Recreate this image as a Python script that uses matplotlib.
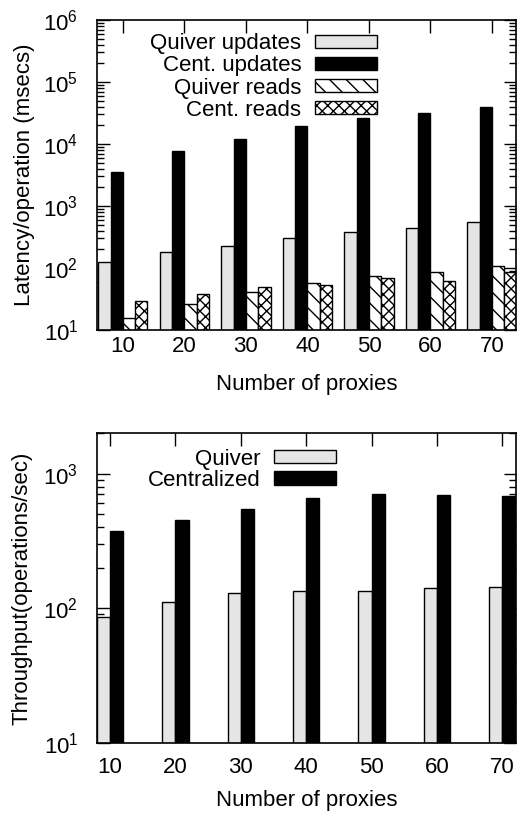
import numpy as np
import matplotlib
matplotlib.use("Agg")
import matplotlib.pyplot as plt
from matplotlib.patches import Patch

plt.rcParams['font.family'] = ['Liberation Sans', 'DejaVu Sans']
plt.rcParams['mathtext.fontset'] = 'custom'
plt.rcParams['mathtext.rm'] = 'Liberation Sans'
plt.rcParams['mathtext.it'] = 'Liberation Sans'
plt.rcParams['hatch.linewidth'] = 1.0

FS = 16
GRAY = '#e5e5e5'

proxies = [10, 20, 30, 40, 50, 60, 70]

# latency / operation (msecs)
quiver_updates = [126, 179, 229, 308, 385, 446, 546]
cent_updates = [3570, 7700, 11900, 19500, 26300, 31600, 40000]
quiver_reads = [15.5, 26, 41, 58, 75, 86, 108]
cent_reads = [29, 38, 49, 53, 70, 62, 86]

# throughput (operations/sec)
quiver_tp = [86, 111, 129, 134, 135, 141, 144]
cent_tp = [376, 454, 548, 662, 710, 697, 686]

fig = plt.figure(figsize=(5.22, 8.19), dpi=100)
ax1 = fig.add_axes([97/522, 1 - 330/819, 419/522, 310/819])
ax2 = fig.add_axes([97/522, 1 - 743/819, 419/522, 310/819])

x = np.arange(len(proxies))
w = 0.2


def style(ax, ylim, xlim, xpad, lpad):
    ax.set_yscale('log')
    ax.set_ylim(*ylim)
    ax.set_xlim(*xlim)
    ax.set_xticks(x)
    ax.set_xticklabels([str(p) for p in proxies])
    ax.tick_params(axis='both', which='both', direction='in', top=True, right=True,
                   labelsize=FS, width=1)
    ax.tick_params(axis='y', which='major', length=9, pad=13.5)
    ax.tick_params(axis='y', which='minor', length=5)
    ax.tick_params(axis='x', which='major', length=9, pad=xpad)
    ax.tick_params(axis='x', which='minor', bottom=False, top=False)
    ax.set_axisbelow(True)
    for s in ax.spines.values():
        s.set_linewidth(1.2)
        s.set_zorder(5)
    ax.set_xlabel('Number of proxies', fontsize=FS, labelpad=lpad)


# top: latency
bars = [(quiver_updates, dict(facecolor=GRAY), 'Quiver updates'),
        (cent_updates, dict(facecolor='black'), 'Cent. updates'),
        (quiver_reads, dict(facecolor='white', hatch='\\\\'), 'Quiver reads'),
        (cent_reads, dict(facecolor='white', hatch='xxx'), 'Cent. reads')]
handles = []
for i, (vals, kw, lab) in enumerate(bars):
    ax1.bar(x + (i - 1.5) * w, vals, width=w, edgecolor='black', linewidth=1, **kw)
    handles.append(Patch(edgecolor='black', linewidth=1, label=lab, **kw))
style(ax1, (10, 1e6), (-0.42, 6.39), 4, 12.5)
ax1.set_ylabel('Latency/operation (msecs)', fontsize=FS)
ax1.yaxis.set_label_coords(-0.148, 0.5)
ax1.legend(handles=handles, loc='upper right', bbox_to_anchor=(0.668, 0.957),
           frameon=False, markerfirst=False, fontsize=FS, handlelength=2.8,
           handleheight=0.55, handletextpad=0.6, labelspacing=0.05, borderpad=0,
           borderaxespad=0)

# bottom: throughput
handles = []
for i, (vals, c, lab) in enumerate([(quiver_tp, GRAY, 'Quiver'),
                                    (cent_tp, 'black', 'Centralized')]):
    ax2.bar(x + (i - 0.5) * w, vals, width=w, facecolor=c,
            edgecolor='black', linewidth=1)
    handles.append(Patch(facecolor=c, edgecolor='black', linewidth=1, label=lab))
style(ax2, (10, 2000), (-0.2, 6.21), 10, 8.5)
ax2.set_ylabel('Throughput(operations/sec)', fontsize=FS)
ax2.yaxis.set_label_coords(-0.153, 0.5)
ax2.legend(handles=handles, loc='upper right', bbox_to_anchor=(0.570, 0.95),
           frameon=False, markerfirst=False, fontsize=FS, handlelength=2.8,
           handleheight=0.55, handletextpad=0.6, labelspacing=0.02, borderpad=0,
           borderaxespad=0)

fig.savefig('out.png', dpi=100)
